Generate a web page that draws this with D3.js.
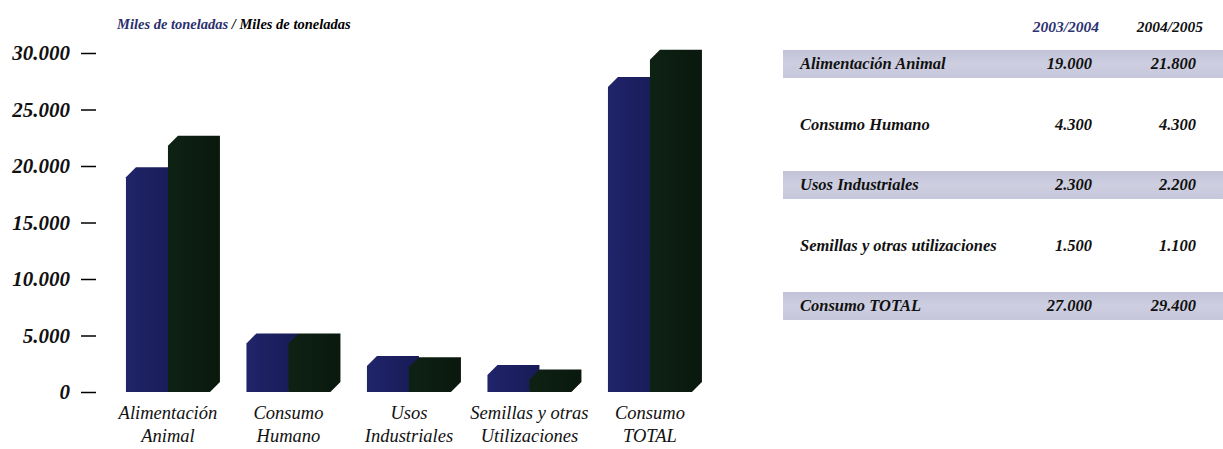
<!DOCTYPE html>
<html>
<head>
<meta charset="utf-8">
<script src="https://cdn.jsdelivr.net/npm/d3@7"></script>
<style>
  html, body { margin: 0; padding: 0; background: #ffffff; }
  svg { display: block; }
</style>
</head>
<body>
<svg id="chart" width="1223" height="449"></svg>
<script>
// ---------- DATA ----------
const categories = ["Alimentación Animal", "Consumo Humano", "Usos Industriales", "Semillas y otras Utilizaciones", "Consumo TOTAL"];
const categoryLines = [["Alimentación", "Animal"], ["Consumo", "Humano"], ["Usos", "Industriales"], ["Semillas y otras", "Utilizaciones"], ["Consumo", "TOTAL"]];
const series = ["2003/2004", "2004/2005"];
const values2003 = [19000, 4300, 2300, 1500, 27000];
const values2004 = [21800, 4300, 2200, 1100, 29400];
const yTicks = [0, 5000, 10000, 15000, 20000, 25000, 30000];
const tableRows = ["Alimentación Animal", "Consumo Humano", "Usos Industriales", "Semillas y otras utilizaciones", "Consumo TOTAL"];
const shadedRows = [true, false, true, false, true];
const titleUnit = "Miles de toneladas";

// ---------- SETUP ----------
const svg = d3.select("#chart");
const locale = d3.formatLocale({ decimal: ",", thousands: ".", grouping: [3], currency: ["", ""] });
const fmt = locale.format(",");
const serif = "'Liberation Serif', 'Times New Roman', serif";

const seriesValues = [values2003, values2004];
const seriesColors = ["url(#gBlue)", "url(#gGreen)"];

const defs = svg.append("defs");
const gb = defs.append("linearGradient").attr("id", "gBlue").attr("x1", "0").attr("x2", "1").attr("y1", "0").attr("y2", "0");
gb.append("stop").attr("offset", "0").attr("stop-color", "#20246a");
gb.append("stop").attr("offset", "1").attr("stop-color", "#181b55");
const gg = defs.append("linearGradient").attr("id", "gGreen").attr("x1", "0").attr("x2", "1").attr("y1", "0").attr("y2", "0");
gg.append("stop").attr("offset", "0").attr("stop-color", "#0e2214");
gg.append("stop").attr("offset", "1").attr("stop-color", "#0a180d");
const gBand = defs.append("linearGradient").attr("id", "gBand").attr("x1", "0").attr("x2", "0").attr("y1", "0").attr("y2", "1");
gBand.append("stop").attr("offset", "0").attr("stop-color", "#c2c3d8");
gBand.append("stop").attr("offset", "0.5").attr("stop-color", "#cdcee0");
gBand.append("stop").attr("offset", "1").attr("stop-color", "#c6c7da");

// ---------- SCALES ----------
const y = d3.scaleLinear().domain([0, 30000]).range([392, 53]);
const x0 = d3.scaleBand().domain(categories).range([107.7, 710.2]).paddingInner(0.303).paddingOuter(0.1515);
const x1 = d3.scaleBand().domain(series).range([0, x0.bandwidth()]);
const depth = 10;

// ---------- TITLE ----------
const title = svg.append("text")
  .attr("x", 117).attr("y", 29)
  .attr("font-family", serif).attr("font-weight", "bold").attr("font-style", "italic")
  .attr("font-size", 14.5);
title.append("tspan").attr("fill", "#2b2f6e").text(titleUnit);
title.append("tspan").attr("fill", "#000").text(" / " + titleUnit);

// ---------- Y AXIS ----------
const yAxis = d3.axisLeft(y).tickValues(yTicks).tickFormat(fmt).tickSize(15).tickPadding(11);
const gy = svg.append("g").attr("transform", "translate(96,0)").call(yAxis);
gy.select(".domain").remove();
gy.selectAll(".tick line").attr("stroke", "#000").attr("stroke-width", 1.5);
gy.selectAll(".tick text")
  .attr("font-family", serif).attr("font-weight", "bold").attr("font-style", "italic")
  .attr("font-size", 21).attr("fill", "#111");

// ---------- BARS ----------
function barPath(xl, w, v) {
  const yv = y(v), yb = y(0), xr = xl + w;
  return `M${xl},${yb} L${xl},${yv} L${xl + depth},${yv - depth} L${xr + depth},${yv - depth} L${xr + depth},${yb - depth} L${xr},${yb} Z`;
}
const barW = x1.bandwidth();
const groups = svg.append("g").selectAll("g").data(categories).join("g")
  .attr("transform", d => `translate(${x0(d)},0)`);
series.forEach((s, si) => {
  groups.append("path")
    .attr("d", (d, i) => barPath(x1(s), barW, seriesValues[si][i]))
    .attr("fill", seriesColors[si]);
});

// ---------- X LABELS ----------
const xl = svg.append("g");
categories.forEach((c, i) => {
  const cx = x0(c) + x0.bandwidth() / 2;
  const t = xl.append("text")
    .attr("x", cx).attr("y", 419)
    .attr("text-anchor", "middle")
    .attr("font-family", serif).attr("font-style", "italic")
    .attr("font-size", 18.5).attr("fill", "#111");
  categoryLines[i].forEach((line, li) => {
    t.append("tspan").attr("x", cx).attr("dy", li === 0 ? 0 : 23).text(line);
  });
});

// ---------- TABLE ----------
const rowY = d3.scalePoint().domain(tableRows).range([64, 306]);
const colX = d3.scaleOrdinal().domain(series).range([1092, 1196]);
const table = svg.append("g");
table.selectAll("rect.band").data(tableRows.filter((r, i) => shadedRows[i])).join("rect")
  .attr("class", "band")
  .attr("x", 783).attr("width", 440)
  .attr("y", d => rowY(d) - 14).attr("height", 28)
  .attr("fill", "url(#gBand)");

table.selectAll("text.head").data(series).join("text")
  .attr("class", "head")
  .attr("x", d => colX(d) + 7).attr("y", 32)
  .attr("text-anchor", "end")
  .attr("font-family", serif).attr("font-weight", "bold").attr("font-style", "italic")
  .attr("font-size", 15.5)
  .attr("fill", (d, i) => i === 0 ? "#2c3272" : "#111")
  .text(d => d);

table.selectAll("text.rowlab").data(tableRows).join("text")
  .attr("class", "rowlab")
  .attr("x", 800).attr("y", d => rowY(d) + 5)
  .attr("font-family", serif).attr("font-weight", "bold").attr("font-style", "italic")
  .attr("font-size", 16.5).attr("fill", "#111")
  .text(d => d);

series.forEach((s, si) => {
  table.selectAll(`text.val${si}`).data(tableRows).join("text")
    .attr("class", `val${si}`)
    .attr("x", colX(s)).attr("y", d => rowY(d) + 5)
    .attr("text-anchor", "end")
    .attr("font-family", serif).attr("font-weight", "bold").attr("font-style", "italic")
    .attr("font-size", 16.5).attr("fill", "#111")
    .text((d, i) => fmt(seriesValues[si][i]));
});
</script>
</body>
</html>
